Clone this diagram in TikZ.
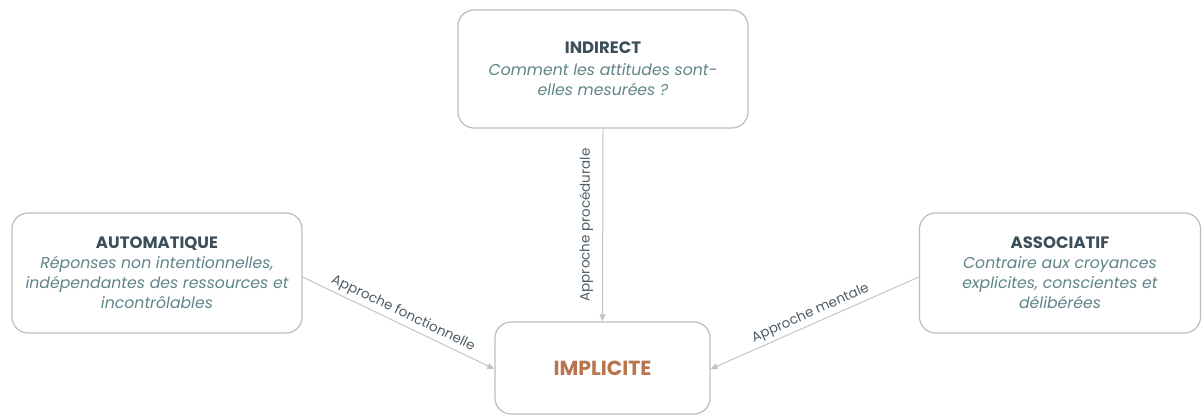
\documentclass[tikz,border=0pt]{standalone}
\usepackage{fontspec}
\setmainfont{Poppins}
\usetikzlibrary{arrows.meta}
\definecolor{titlec}{HTML}{3B4E5A}
\definecolor{descc}{HTML}{5E8588}
\definecolor{implc}{HTML}{B8754E}
\definecolor{borderc}{HTML}{BDBDBD}
\definecolor{arrowc}{HTML}{C4C4C4}
\definecolor{labelc}{HTML}{4D5D68}
\tikzset{
  card/.style={draw=borderc, line width=1.2pt, rounded corners=16pt, fill=white, align=center, inner sep=0pt,
    font=\itshape\fontsize{15.7}{20}\selectfont, text=descc},
  conn/.style={draw=arrowc, line width=1pt, -{Triangle[length=7pt,width=6pt]}},
  lbl/.style={font=\fontsize{13.5}{15}\selectfont, text=labelc, inner sep=3pt}
}
\newcommand{\cardtitle}[1]{{\normalfont\color{titlec}\bfseries\fontsize{16.5}{20}\selectfont #1}}
\begin{document}
\begin{tikzpicture}[x=1pt,y=-1pt]
\useasboundingbox (0,0) rectangle (1204,416);
\node[card, minimum width=290pt, minimum height=118pt] (ind) at (603,69)
  {\cardtitle{INDIRECT}\\[2pt]
   Comment les attitudes sont-\\elles mesurées ?};
\node[card, minimum width=290pt, minimum height=120pt] (aut) at (157,273)
  {\cardtitle{AUTOMATIQUE}\\
   Réponses non intentionnelles,\\indépendantes des ressources et\\incontrôlables};
\node[card, minimum width=281pt, minimum height=120pt] (ass) at (1060,273)
  {\cardtitle{ASSOCIATIF}\\
   Contraire aux croyances\\explicites, conscientes et\\délibérées};
\node[card, minimum width=215pt, minimum height=92pt, font=\bfseries\fontsize{20.4}{24}\selectfont, text=implc] (imp) at (602.5,368) {IMPLICITE};
\draw[conn] (ind.south) -- node[lbl, sloped, above=6pt, pos=0.5] {Approche procédurale} (imp.north);
\coordinate (a1) at (aut.east |- 0,277);
\coordinate (a2) at (imp.west |- 0,369);
\coordinate (b1) at (ass.west |- 0,277);
\coordinate (b2) at (imp.east |- 0,369);
\draw[conn] (a1) -- node[lbl, sloped, above] {Approche fonctionnelle} (a2);
\draw[conn] (b1) -- node[lbl, sloped, above] {Approche mentale} (b2);
\end{tikzpicture}
\end{document}
